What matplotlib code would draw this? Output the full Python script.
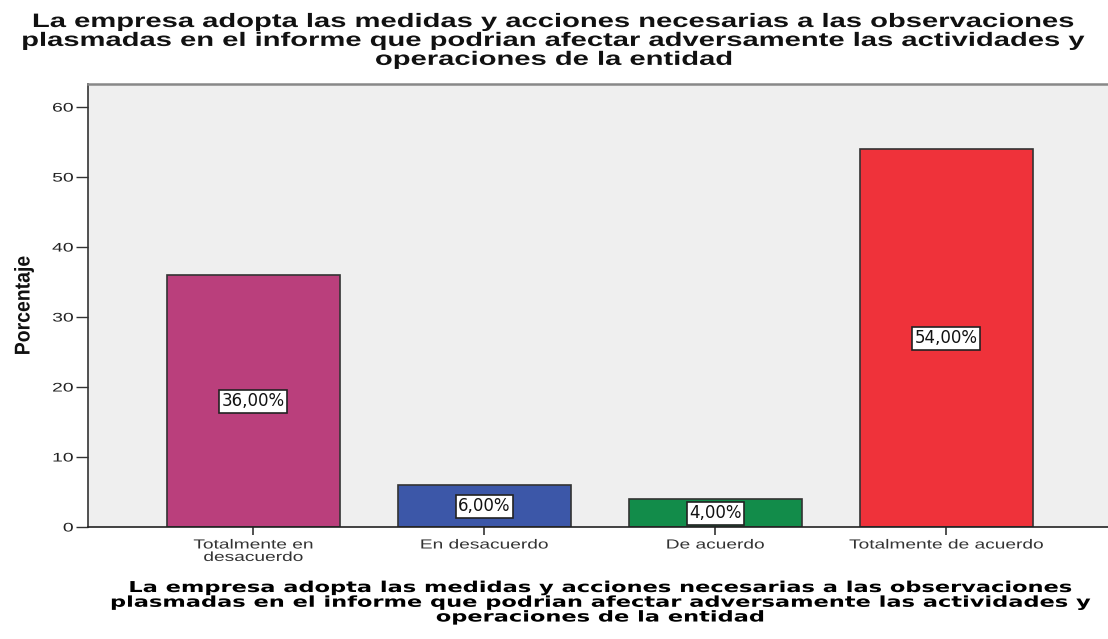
import matplotlib.pyplot as plt
from matplotlib import patheffects
from matplotlib.transforms import Affine2D

# Data
categories = ['Totalmente en\ndesacuerdo', 'En desacuerdo', 'De acuerdo', 'Totalmente de acuerdo']
percent = [36.0, 6.0, 4.0, 54.0]
bar_colors = ['#BA3F7C', '#3C57A8', '#128C4A', '#EF323A']
yticks = [0, 10, 20, 30, 40, 50, 60]

title = ('La empresa adopta las medidas y acciones necesarias a las observaciones\n'
         'plasmadas en el informe que podrian afectar adversamente las actividades y\n'
         'operaciones de la entidad')


class StretchX(patheffects.AbstractPathEffect):
    """Draw text glyphs stretched horizontally (the source image is wide-scaled)."""

    def __init__(self, sx, anchor='center'):
        super().__init__()
        self.sx = sx
        self.anchor = anchor

    def draw_path(self, renderer, gc, tpath, affine, rgbFace=None):
        ext = tpath.get_extents(affine)
        if self.anchor == 'right':
            cx = ext.x1
        elif self.anchor == 'left':
            cx = ext.x0
        else:
            cx = (ext.x0 + ext.x1) / 2
        stretched = affine + Affine2D().translate(-cx, 0).scale(self.sx, 1).translate(cx, 0)
        renderer.draw_path(gc, tpath, stretched, rgbFace)


fig = plt.figure(figsize=(11.08, 6.39), dpi=100)
ax = fig.add_axes([88 / 1108, 112 / 639, 1 - 88 / 1108, 443 / 639])
ax.set_facecolor('#EFEFEF')

x = list(range(len(categories)))
ax.bar(x, percent, width=0.75, color=bar_colors, edgecolor='#333333', linewidth=1.2, zorder=2)

for xi, v in zip(x, percent):
    ax.text(xi, v / 2, f'{v:.2f}%'.replace('.', ','), ha='center', va='center',
            fontsize=12, family='DejaVu Sans', color='#111111', zorder=3,
            bbox=dict(boxstyle='square,pad=0.15', fc='white', ec='#222222', lw=1.2))

ax.set_xlim(-0.716, 3.70)
ax.set_ylim(0, 63.3)
ax.set_yticks(yticks)
ax.set_xticks(x)
ax.set_xticklabels(categories, fontsize=9.5, family='Liberation Sans', color='#222222',
                   linespacing=1.05)
ax.tick_params(axis='y', length=8.5, width=1, colors='#333333', labelsize=9, pad=2)
ax.tick_params(axis='x', length=6, width=1.2, colors='#333333', pad=3)
for lab in ax.get_yticklabels():
    lab.set_family('Liberation Sans')
    lab.set_color('#222222')
    lab.set_path_effects([StretchX(1.55, 'right')])
for lab in ax.get_xticklabels():
    lab.set_path_effects([StretchX(1.45)])

ax.spines['left'].set_color('#333333')
ax.spines['left'].set_linewidth(1.2)
ax.spines['bottom'].set_color('#222222')
ax.spines['bottom'].set_linewidth(1.2)
ax.spines['top'].set_color('#888888')
ax.spines['top'].set_linewidth(1.8)
ax.spines['right'].set_visible(False)

ax.set_ylabel('Porcentaje', fontsize=14, fontweight='bold', family='Liberation Sans',
              color='#111111')
ax.yaxis.set_label_coords((33 - 88) / 1020, 0.5)
ax.yaxis.label.set_path_effects([StretchX(1.1)])

fig.text(0.5, 1 - 14 / 639, title, ha='center', va='top', fontsize=14, fontweight='bold',
         family='Liberation Sans', linespacing=1.15, color='#111111',
         path_effects=[StretchX(1.5)])
# x-axis title: centred under the plot area
fig.text(600 / 1108, 1 - 580 / 639, title, ha='center', va='top', fontsize=10.8,
         fontweight='bold', family='DejaVu Sans', linespacing=0.98, color='#000000',
         path_effects=[StretchX(1.5)])

fig.savefig('out.png', dpi=100)
